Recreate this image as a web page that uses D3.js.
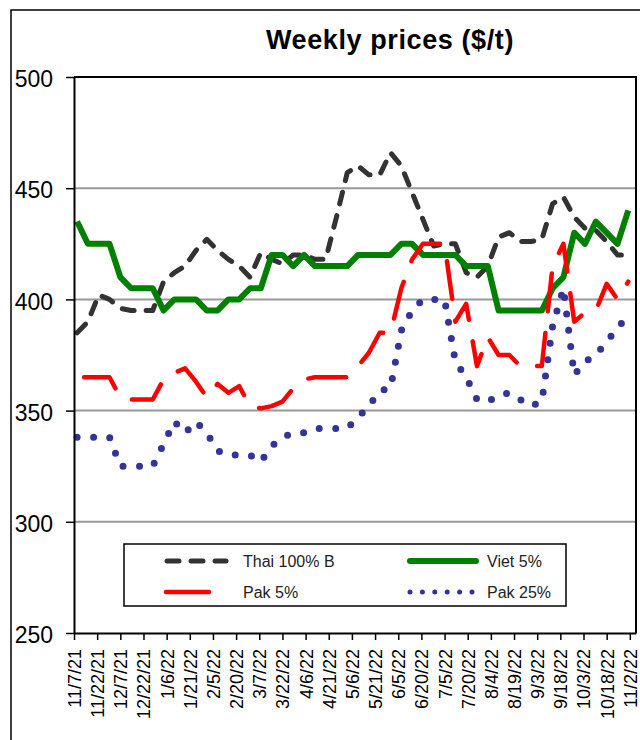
<!DOCTYPE html>
<html>
<head>
<meta charset="utf-8">
<script src="https://cdn.jsdelivr.net/npm/d3@7"></script>
<style>
  body { margin: 0; background: #fff; }
  svg { font-family: "Liberation Sans", Arial, sans-serif; }
</style>
</head>
<body>
<div id="chart"></div>
<script>
// weekly observation dates
var dates = ["11/9/21","11/16/21","11/23/21","11/30/21","12/7/21","12/14/21","12/21/21","12/28/21",
  "1/4/22","1/11/22","1/18/22","1/25/22","2/1/22","2/8/22","2/15/22","2/22/22","3/1/22","3/8/22",
  "3/15/22","3/22/22","3/29/22","4/5/22","4/12/22","4/19/22","4/26/22","5/3/22","5/10/22","5/17/22",
  "5/24/22","5/31/22","6/7/22","6/14/22","6/21/22","6/28/22","7/5/22","7/12/22","7/19/22","7/26/22",
  "8/2/22","8/9/22","8/16/22","8/23/22","8/30/22","9/6/22","9/13/22","9/20/22","9/27/22","10/4/22",
  "10/11/22","10/18/22","10/25/22","11/1/22"];

var thai = [385,390,402,400,396,395,395,395,408,412,415,422,427,422,418,415,410,421,418,416,
  420,420,418,418,437,457,460,456,456,466,460,448,436,424,425,425,412,410,415,428,
  430,426,426,427,443,446,437,432,431,426,420,420];
var viet = [435,425,425,425,410,405,405,405,395,400,400,400,395,395,400,400,405,405,420,420,
  415,420,415,415,415,415,420,420,420,420,425,425,420,420,420,420,415,415,415,395,
  395,395,395,395,405,410,430,425,435,430,425,440];
var pak5 = [365,365,365,365,356,355,355,355,364,367,369,363,356,362,358,361,352,351,352,354,
  360,364,365,365,365,365,370,376,385,385,405,418,425,425,425,390,398,370,383,375,
  375,370,370,370,415,425,390,394,395,407,400,408];
var pak25 = [338,338,338,338,325,325,325,325,335,345,340,345,340,332,330,330,330,327,334,338,
  340,340,342,342,342,342,347,352,359,360,386,395,400,400,400,372,365,355,354,357,
  358,355,352,354,388,405,366,372,375,381,387,393];

var tickLabels = ["11/7/21","11/22/21","12/7/21","12/22/21","1/6/22","1/21/22","2/5/22","2/20/22",
  "3/7/22","3/22/22","4/6/22","4/21/22","5/6/22","5/21/22","6/5/22","6/20/22","7/5/22","7/20/22",
  "8/4/22","8/19/22","9/3/22","9/18/22","10/3/22","10/18/22","11/2/22"];
var yTicks = [250, 300, 350, 400, 450, 500];

var parse = d3.timeParse("%m/%d/%y");

var margin = { top: 77, right: 4, bottom: 107, left: 74 },
  width = 640 - margin.left - margin.right,
  height = 740 - margin.top - margin.bottom;

var root = d3.select("#chart")
  .append("svg")
  .attr("width", 640)
  .attr("height", 740);

// outer chart frame
root.append("rect")
  .attr("x", 11).attr("y", 10)
  .attr("width", 660).attr("height", 760)
  .attr("fill", "none")
  .attr("stroke", "#000")
  .attr("stroke-width", 1.5);

root.append("text")
  .attr("x", 390).attr("y", 49)
  .attr("text-anchor", "middle")
  .style("font-size", "27px")
  .style("font-weight", "bold")
  .style("letter-spacing", "0.6px")
  .text("Weekly prices ($/t)");

var svg = root.append("g")
  .attr("transform", "translate(" + margin.left + "," + margin.top + ")");

var x = d3.scaleTime()
  .domain([parse("11/7/21"), parse("11/6/22")])
  .range([0, width]);

var y = d3.scaleLinear()
  .domain([250, 500])
  .range([height, 0]);

// gridlines
svg.append("g")
  .selectAll("line")
  .data(yTicks.filter(function (d) { return d > 250 && d < 500; }))
  .enter()
  .append("line")
  .attr("x1", 0).attr("x2", width)
  .attr("y1", function (d) { return y(d); })
  .attr("y2", function (d) { return y(d); })
  .attr("stroke", "#999")
  .attr("stroke-width", 2);

// top + right border of plot
svg.append("path")
  .attr("d", "M0," + y(500) + "H" + width + "V" + height)
  .attr("fill", "none")
  .attr("stroke", "#000")
  .attr("stroke-width", 2);

var series = [
  { name: "Thai 100% B", values: thai, color: "#333333", w: 5, dash: "12,12", offset: 0 },
  { name: "Viet 5%", values: viet, color: "#008000", w: 6, dash: null, offset: 0 },
  { name: "Pak 5%", values: pak5, color: "#ff0000", w: 4.5, dash: "38,22", offset: 53 },
  { name: "Pak 25%", values: pak25, color: "#333399", w: 7, dash: "0,16.5", offset: 0 }
];

var line = d3.line()
  .x(function (d, i) { return x(parse(dates[i])); })
  .y(function (d) { return y(d); });

svg.append("g")
  .selectAll("path")
  .data(series)
  .enter()
  .append("path")
  .attr("d", function (d) { return line(d.values); })
  .attr("fill", "none")
  .attr("stroke", function (d) { return d.color; })
  .attr("stroke-width", function (d) { return d.w; })
  .attr("stroke-dasharray", function (d) { return d.dash; })
  .attr("stroke-dashoffset", function (d) { return d.offset; })
  .attr("stroke-linecap", function (d) { return d.dash ? "round" : "butt"; })
  .attr("stroke-linejoin", "round");

// y axis
var yAxis = svg.append("g")
  .call(d3.axisLeft(y).tickValues(yTicks).tickSize(8).tickSizeOuter(0).tickPadding(13));
yAxis.selectAll("text")
  .style("font-size", "23px")
  .attr("fill", "#000")
  .attr("dy", "0.42em");

// x axis
var xAxis = svg.append("g")
  .attr("transform", "translate(0," + height + ")")
  .call(d3.axisBottom(x)
    .tickValues(tickLabels.map(parse))
    .tickFormat(function (d, i) { return tickLabels[i]; })
    .tickSize(7)
    .tickSizeOuter(0));
xAxis.selectAll("text")
  .style("font-size", "18px")
  .attr("fill", "#000")
  .attr("text-anchor", "end")
  .attr("transform", "rotate(-90)")
  .attr("x", -16)
  .attr("y", 0)
  .attr("dy", "0.36em");

svg.selectAll(".domain").attr("stroke-width", 2);
svg.selectAll(".tick line").attr("stroke-width", 1.5);

// legend
var legend = root.append("g");
legend.append("rect")
  .attr("x", 124).attr("y", 544)
  .attr("width", 442).attr("height", 62)
  .attr("fill", "#fff")
  .attr("stroke", "#000")
  .attr("stroke-width", 1.5);

var legendPos = [
  { sx: 167, sy: 561, len: 59, tx: 243 },
  { sx: 410, sy: 561, len: 66, tx: 487 },
  { sx: 166, sy: 592, len: 43, tx: 243 },
  { sx: 410, sy: 592, len: 63, tx: 487 }
];

series.forEach(function (s, i) {
  var p = legendPos[i];
  legend.append("line")
    .attr("x1", p.sx).attr("x2", p.sx + p.len)
    .attr("y1", p.sy).attr("y2", p.sy)
    .attr("stroke", s.color)
    .attr("stroke-width", i === 3 ? 5 : s.w)
    .attr("stroke-dasharray", i === 2 ? null : (i === 3 ? "0,12.4" : s.dash))
    .attr("stroke-linecap", "round");
  legend.append("text")
    .attr("x", p.tx).attr("y", p.sy + 6)
    .style("font-size", "16px")
    .attr("fill", "#222")
    .text(s.name);
});
</script>
</body>
</html>
